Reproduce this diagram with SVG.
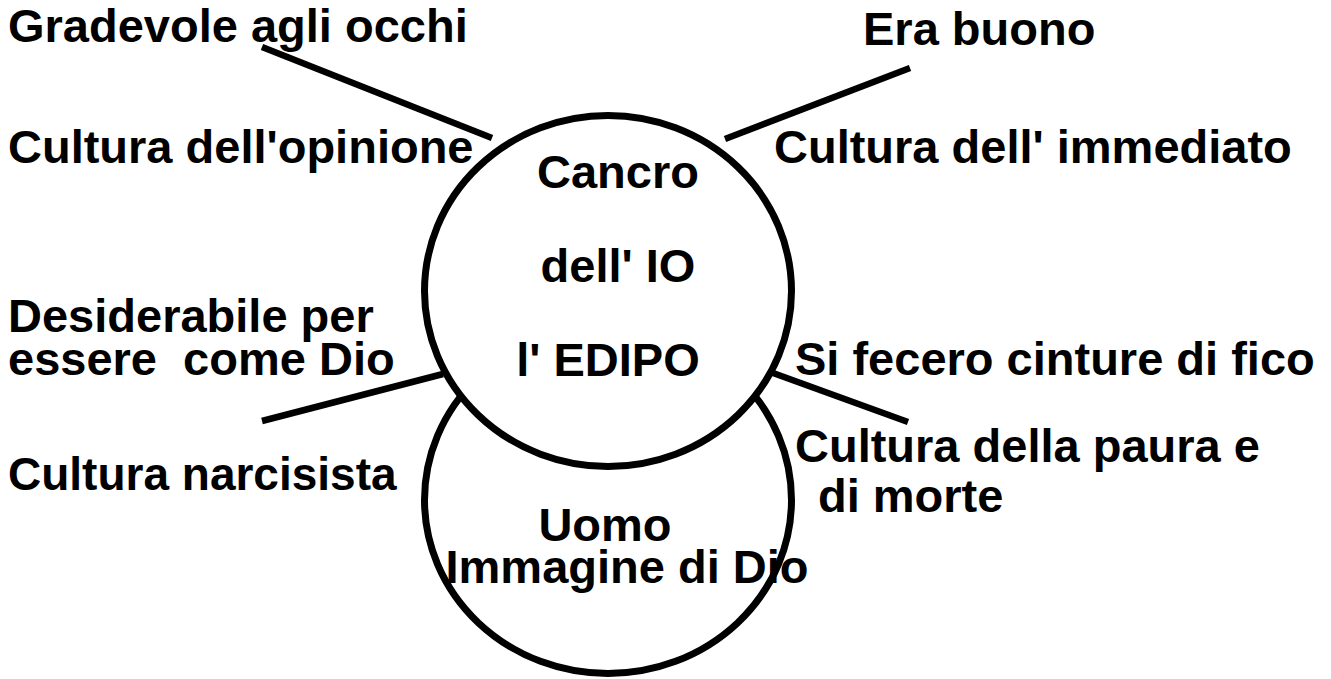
<svg xmlns="http://www.w3.org/2000/svg" width="1331" height="679" viewBox="0 0 1331 679">
<style>
.t{font-family:"Liberation Sans",Arial,Helvetica,sans-serif;font-weight:bold;font-size:47px;fill:#000}
.c{text-anchor:middle}
.node{fill:#fff;stroke:#000;stroke-width:7}
.ln{stroke:#000;stroke-width:6.5;stroke-linecap:butt;fill:none}
</style>
<rect width="1331" height="679" fill="#fff"/>
<g id="uomo">
<ellipse class="node" cx="608" cy="500" rx="183.5" ry="173.5"/>
</g>
<g id="cancro">
<ellipse class="node" cx="608" cy="291" rx="183.5" ry="175.5"/>
<text class="t c" x="618" y="188">Cancro</text>
<text class="t c" x="618" y="282">dell' IO</text>
<text class="t c" x="608" y="376">l' EDIPO</text>
</g>
<g id="uomo-label">
<text class="t c" x="605" y="541">Uomo</text>
<text class="t c" x="627" y="583">Immagine di Dio</text>
</g>
<g id="connectors">
<line class="ln" x1="262" y1="47" x2="492" y2="138"/>
<line class="ln" x1="910" y1="68" x2="725" y2="139"/>
<line class="ln" x1="262" y1="421" x2="443" y2="374"/>
<line class="ln" x1="773" y1="373" x2="908" y2="422"/>
</g>
<g id="gradevole"><text class="t" x="8" y="42">Gradevole agli occhi</text></g>
<g id="opinione"><text class="t" x="8" y="163">Cultura dell'opinione</text></g>
<g id="buono"><text class="t" x="863" y="45">Era buono</text></g>
<g id="immediato"><text class="t" x="774" y="163">Cultura dell' immediato</text></g>
<g id="desiderabile">
<text class="t" x="8" y="332">Desiderabile per</text>
<text class="t" x="8" y="375" xml:space="preserve" style="white-space:pre">essere  come Dio</text>
</g>
<g id="narcisista"><text class="t" x="8" y="490" style="font-size:46px">Cultura narcisista</text></g>
<g id="fico"><text class="t" x="795" y="375">Si fecero cinture di fico</text></g>
<g id="paura">
<text class="t" x="795" y="462">Cultura della paura e</text>
<text class="t" x="818" y="512">di morte</text>
</g>
</svg>
